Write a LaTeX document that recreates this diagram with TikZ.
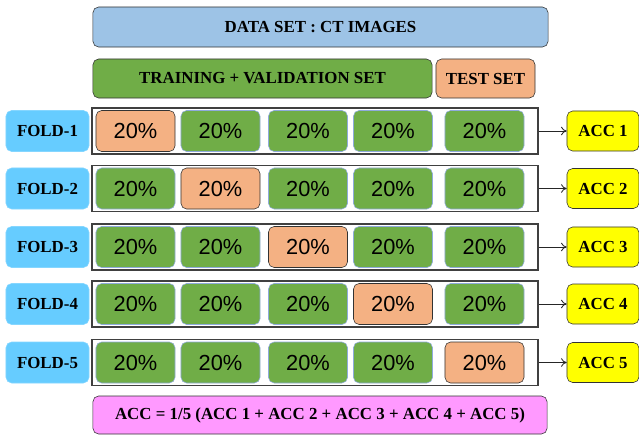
\documentclass[tikz,border=0pt]{standalone}
\usepackage{fontspec}
\setmainfont{Liberation Serif}
\newfontfamily\cellfont{Liberation Sans}
\usepackage{xcolor}
\usetikzlibrary{arrows.meta}
\definecolor{setblue}{RGB}{157,195,230}
\definecolor{trainfill}{RGB}{112,173,71}
\definecolor{testfill}{RGB}{244,177,131}
\definecolor{foldblue}{RGB}{102,204,255}
\definecolor{accyellow}{RGB}{255,255,0}
\definecolor{avgpink}{RGB}{255,153,255}
\definecolor{cellline}{RGB}{143,170,220}

\begin{document}
\begin{tikzpicture}[x=0.025cm, y=-0.025cm,
  label/.style={font=\bfseries\fontsize{12}{14}\selectfont},
  head/.style={label, draw=black!80, rounded corners=4pt, minimum height=1cm},
  fold/.style={label, draw=foldblue!80, rounded corners=4pt, fill=foldblue, minimum width=2.075cm, minimum height=1.025cm},
  frame/.style={draw=black!75, line width=0.9pt, minimum width=11.15cm, minimum height=1.15cm},
  cell/.style={draw=cellline, rounded corners=4pt, fill=trainfill, minimum width=1.975cm, minimum height=1.025cm, font=\cellfont\fontsize{15.5}{18}\selectfont},
  testcell/.style={cell, draw=black!80, fill=testfill},
  acc/.style={label, draw=black!80, rounded corners=4pt, fill=accyellow, minimum width=1.8cm, minimum height=1cm},
  arrow/.style={-{To[length=4pt,width=6pt]}, black!85, line width=0.6pt}
]
  \useasboundingbox (0,0) rectangle (639,435);

  % Data set split
  \node[head, fill=setblue, minimum width=11.375cm] (dataset) at (320.5,27) {DATA SET : CT IMAGES};
  \node[head, fill=trainfill, minimum width=8.475cm, minimum height=0.975cm] (trainval) at (262.5,78.5) {TRAINING + VALIDATION SET};
  \node[head, fill=testfill, minimum width=2.475cm, minimum height=0.975cm] (testset) at (485.5,78.5) {TEST SET};

  % Folds
  \foreach \i/\y in {1/131, 2/188.5, 3/247, 4/304, 5/362.5} {
    \node[fold] (fold\i) at (47.5,\y) {FOLD-\i};
    \node[frame] (frame\i) at (315,\y) {};
    \foreach \j/\x in {1/135.5, 2/220.5, 3/308, 4/393, 5/484.5} {
      \ifnum\j=\i \def\sty{testcell}\else \def\sty{cell}\fi
      \node[\sty] (cell\i\j) at (\x,\y) {20\%};
    }
    \node[acc] (acc\i) at (603,\y) {ACC \i};
    \draw[arrow] (frame\i) -- (acc\i);
  }

  % Average accuracy
  \node[head, fill=avgpink, minimum width=11.35cm, minimum height=0.95cm] (avg) at (320,415) {ACC = 1/5 (ACC 1 + ACC 2 + ACC 3 + ACC 4 + ACC 5)};
\end{tikzpicture}
\end{document}
